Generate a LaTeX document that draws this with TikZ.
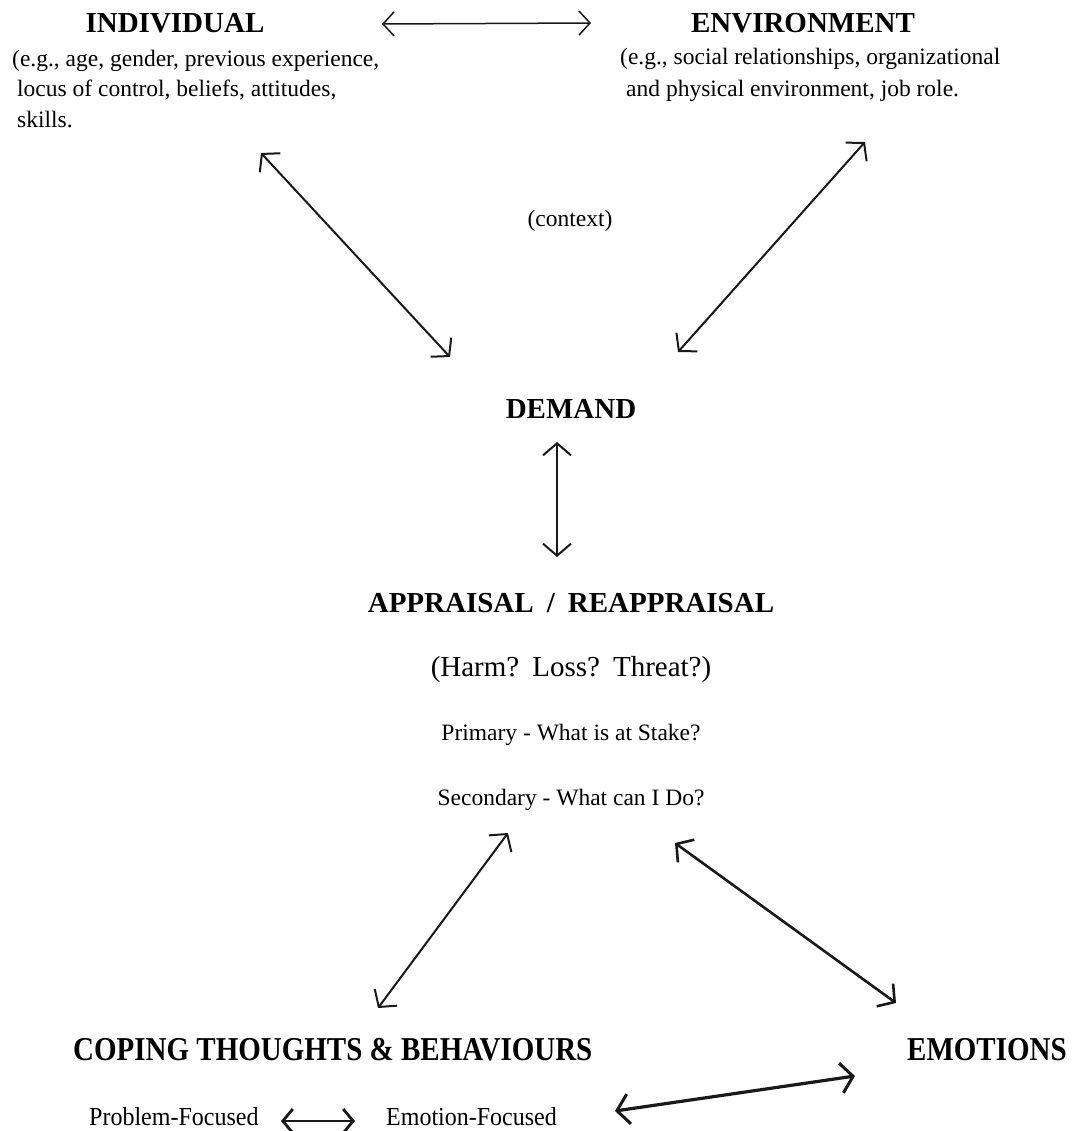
\documentclass[tikz,border=0pt]{standalone}
\usepackage{fontspec}
\setmainfont{Liberation Serif}
\usetikzlibrary{arrows.meta}
\tikzset{
  head/.style={font=\bfseries\fontsize{29}{34}\selectfont, inner sep=0pt, anchor=base},
  bodytxt/.style={font=\fontsize{23.5}{28}\selectfont, inner sep=0pt, anchor=base west},
  midtxt/.style={font=\fontsize{23.5}{28}\selectfont, inner sep=0pt, anchor=base},
  hb/.tip={Straight Barb[length=12pt,width=28pt,line width=2pt]},
  twoway/.style={draw=black!90, line width=2pt, line cap=round, hb-hb},
}
\begin{document}
\begin{tikzpicture}[x=1pt,y=-1pt]
\useasboundingbox (0,0) rectangle (1077,1131);
% top row
\node[head] (ind) at (175,33) {INDIVIDUAL};
\node[bodytxt] (indA) at (12,67) {(e.g., age, gender, previous experience,};
\node[bodytxt] (indB) at (17,97) {locus of control, beliefs, attitudes,};
\node[bodytxt] (indC) at (17,128) {skills.};
\node[head] (env) at (803,33) {ENVIRONMENT};
\node[bodytxt] (envA) at (620,65) {(e.g., social relationships, organizational};
\node[bodytxt] (envB) at (626,97) {and physical environment, job role.};
\node[midtxt] (ctx) at (570,227) {(context)};
% centre column
\node[head] (dem) at (571,418) {DEMAND};
\node[head] (appr) at (571,612) {APPRAISAL\hspace{0.45em}/\hspace{0.45em}REAPPRAISAL};
\node[midtxt, font=\fontsize{29}{34}\selectfont] (harm) at (571,676) {(Harm?\hspace{0.45em}Loss?\hspace{0.45em}Threat?)};
\node[midtxt] (prim) at (571,740) {Primary - What is at Stake?};
\node[midtxt] (sec) at (571,805) {Secondary - What can I Do?};
% bottom row
\node[head, anchor=base west] (cop) at (73,1060) {\scalebox{1}[1.15]{COPING THOUGHTS \& BEHAVIOURS}};
\node[head, anchor=base west] (emo) at (907,1060) {\scalebox{1}[1.15]{EMOTIONS}};
\node[bodytxt, font=\fontsize{24}{28}\selectfont] (prob) at (89,1125) {\scalebox{1}[1.08]{Problem-Focused}};
\node[bodytxt, font=\fontsize{24}{28}\selectfont] (emof) at (386,1125) {\scalebox{1}[1.08]{Emotion-Focused}};
% arrow end points
\coordinate (tA) at (382,24);  \coordinate (tB) at (591,23);
\coordinate (lA) at (261,153); \coordinate (lB) at (450,357);
\coordinate (rA) at (865,142); \coordinate (rB) at (678,352);
\coordinate (vA) at (557,442); \coordinate (vB) at (557,557);
\coordinate (cA) at (508,833); \coordinate (cB) at (378,1008);
\coordinate (eA) at (675,843); \coordinate (eB) at (896,1003);
\coordinate (bA) at (855,1076); \coordinate (bB) at (615,1111);
\coordinate (sA) at (281,1121); \coordinate (sB) at (355,1121);
% connectors
\draw[twoway, line width=1.5pt, {Straight Barb[length=11pt,width=24pt,line width=1.5pt]}-{Straight Barb[length=11pt,width=24pt,line width=1.5pt]}] (tA) -- (tB);
\draw[twoway] (lA) -- (lB);
\draw[twoway] (rA) -- (rB);
\draw[twoway] (vA) -- (vB);
\draw[twoway] (cA) -- (cB);
\draw[twoway, line width=2.6pt, {Straight Barb[length=12pt,width=28pt,line width=2.6pt]}-{Straight Barb[length=12pt,width=28pt,line width=2.6pt]}] (eA) -- (eB);
\draw[twoway, line width=3.2pt, {Straight Barb[length=12pt,width=30pt,line width=3pt]}-{Straight Barb[length=12pt,width=30pt,line width=3pt]}] (bA) -- (bB);
\draw[twoway, line width=2.8pt, {Straight Barb[length=10pt,width=24pt,line width=2.8pt]}-{Straight Barb[length=10pt,width=24pt,line width=2.8pt]}] (sA) -- (sB);
\end{tikzpicture}
\end{document}
